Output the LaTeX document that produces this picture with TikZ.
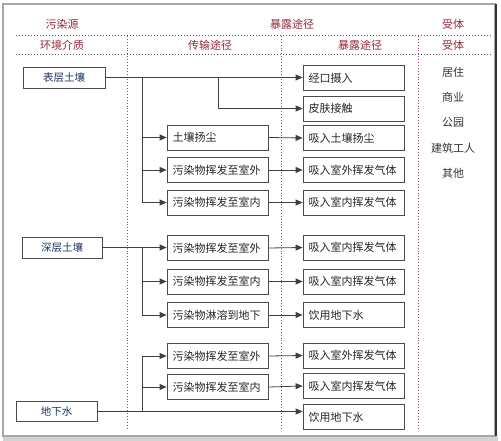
\documentclass[tikz,border=0pt]{standalone}
\usepackage{fontspec}
\newfontfamily\cjk{Noto Sans CJK SC}
\usetikzlibrary{arrows.meta}
\definecolor{hdr}{RGB}{150,40,60}
\definecolor{navy}{RGB}{30,50,100}
\definecolor{vdot}{RGB}{175,70,85}
\tikzset{
  every node/.style={font=\cjk\fontsize{10.5}{12}\selectfont, inner sep=0pt},
  srcbox/.style={draw=black!70, line width=0.8pt, fill=white, text=navy, minimum width=#1, minimum height=21pt},
  midbox/.style={draw=black!70, line width=0.8pt, fill=white, text=black!85, font=\cjk\fontsize{11}{12}\selectfont, minimum width=101pt, text width=90pt, align=left, minimum height=25pt},
  hd/.style={text=hdr, font=\cjk\fontsize{11}{12}\selectfont},
  rec/.style={text=black!80, font=\cjk\fontsize{11}{12}\selectfont},
  conn/.style={draw=black!75, line width=0.8pt},
  arr/.style={conn, -{Triangle[length=7pt,width=6pt]}},
  hdot/.style={draw=black!65, line width=1pt, dotted},
  vdotl/.style={draw=vdot, line width=0.9pt, dotted}
}
\begin{document}
\begin{tikzpicture}[x=1pt,y=-1pt]
\useasboundingbox (0,0) rectangle (501,441);
% frame
\fill[gray!35] (3,436) rectangle (498,441);
\draw[gray!70, line width=1.2pt] (3,4) rectangle (495,436);
\draw[black!80, line width=2.5pt] (496,4) -- (496,436);
% header
\node[hd] (h1) at (62,24) {污染源};
\node[hd] (h2) at (292,24) {暴露途径};
\node[hd] (h3) at (453,24) {受体};
\node[hd] (h4) at (62,45) {环境介质};
\node[hd] (h5) at (210,45) {传输途径};
\node[hd] (h6) at (360,45) {暴露途径};
\node[hd] (h7) at (453,45) {受体};
\draw[hdot] (16,36) -- (493,36);
\draw[hdot] (16,55) -- (493,55);
\draw[vdotl] (127,36) -- (127,428);
\draw[vdotl] (281,36) -- (281,428);
\draw[vdotl] (418,36) -- (418,428);
% receptors
\node[rec] (q1) at (453,72) {居住};
\node[rec] (q2) at (453,97) {商业};
\node[rec] (q3) at (453,122) {公园};
\node[rec] (q4) at (453,148) {建筑工人};
\node[rec] (q5) at (453,173) {其他};
% sources
\node[srcbox=82pt] (s1) at (64,77.5) {表层土壤};
\node[srcbox=80pt] (s2) at (62,247.5) {深层土壤};
\node[srcbox=81pt, minimum height=20pt] (s3) at (56.5,411.5) {地下水};
% middle
\node[midbox] (m1) at (217.5,137.5) {土壤扬尘};
\node[midbox] (m2) at (217.5,170) {污染物挥发至室外};
\node[midbox] (m3) at (217.5,202.5) {污染物挥发至室内};
\node[midbox] (m4) at (217.5,248) {污染物挥发至室外};
\node[midbox] (m5) at (217.5,281.5) {污染物挥发至室内};
\node[midbox] (m6) at (217.5,315) {污染物淋溶到地下};
\node[midbox] (m7) at (217.5,356) {污染物挥发至室外};
\node[midbox] (m8) at (217.5,387) {污染物挥发至室内};
% right
\node[midbox] (r1) at (353.5,78) {经口摄入};
\node[midbox] (r2) at (353.5,108.5) {皮肤接触};
\node[midbox] (r3) at (353.5,138) {吸入土壤扬尘};
\node[midbox] (r4) at (353.5,170) {吸入室外挥发气体};
\node[midbox] (r5) at (353.5,202.5) {吸入室内挥发气体};
\node[midbox] (r6) at (353.5,247.5) {吸入室内挥发气体};
\node[midbox] (r7) at (353.5,281.5) {吸入室内挥发气体};
\node[midbox] (r8) at (353.5,315) {饮用地下水};
\node[midbox] (r9) at (353.5,355.5) {吸入室外挥发气体};
\node[midbox] (r10) at (353.5,386) {吸入室内挥发气体};
\node[midbox] (r11) at (353.5,417) {饮用地下水};
% connectors: surface soil
\coordinate (t1) at (142,77.5);
\coordinate (t1b) at (218,77.5);
\draw[arr] (s1.east) -- (s1.east -| r1.west);
\draw[arr] (t1b) |- (r2.west);
\draw[arr] (t1) |- (m1.west);
\draw[arr] (t1) |- (m2.west);
\draw[arr] (t1) |- (m3.west);
% deep soil
\coordinate (t2) at (142,247.5);
\draw[arr] (s2.east) -- (s2.east -| m4.west);
\draw[arr] (t2) |- (m5.west);
\draw[arr] (t2) |- (m6.west);
% groundwater
\coordinate (t3) at (142,411.5);
\draw[arr] (s3.east) -- (s3.east -| r11.west);
\draw[arr] (t3) |- (m7.west);
\draw[arr] (t3) |- (m8.west);
% middle to right
\draw[arr] (m1.east) -- (r3.west);
\draw[arr] (m2.east) -- (r4.west);
\draw[arr] (m3.east) -- (r5.west);
\draw[arr] (m4.east) -- (r6.west);
\draw[arr] (m5.east) -- (r7.west);
\draw[arr] (m6.east) -- (r8.west);
\draw[arr] (m7.east) -- (r9.west);
\draw[arr] (m8.east) -- (r10.west);
\end{tikzpicture}
\end{document}
